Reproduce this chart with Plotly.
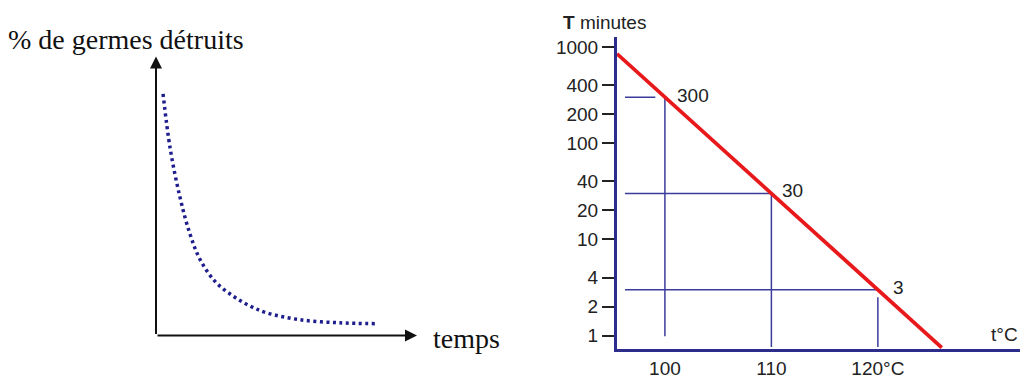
import math
import plotly.graph_objects as go

# page body adds an 8px margin: size the figure to fit the 1028x379 window
OFF = 8
W, H = 1028 - OFF, 379 - OFF

# ---------------- data ----------------
# left schematic: % of germs destroyed vs time (arbitrary units)
curve_time = [2.7, 5.4, 9.2, 13.0, 16.9, 22.6, 29.5, 36.0, 42.5, 55.2, 70.5, 83.9]
curve_pct = [87.5, 67.9, 50.0, 36.8, 27.5, 19.6, 14.3, 10.7, 8.2, 5.7, 4.6, 4.3]

# right chart: thermal death time (log scale)
red_temp = [95.5, 100, 110, 120, 126]
red_time = [850, 300, 30, 3, 0.75]
guide_temps = [100, 110, 120]
guide_times = [300, 30, 3]
guide_labels = ["300", "30", "3"]
y_tickvals = [1000, 400, 200, 100, 40, 20, 10, 4, 2, 1]
y_ticktext = ["1000", "400", "200", "100", "40", "20", "10", "4", "2", "1"]
x_tickvals = [100, 110, 120]
x_ticktext = ["100", "110", "120°C"]

NAVY = "#2b2c8c"
GUIDE = "#3b3c9c"
RED = "#e8191b"
TXT = "#222222"
SANS = "Liberation Sans, Arial, sans-serif"
SERIF = "Liberation Serif, Times New Roman, serif"
FS = 19


def px_x(p):
    return (p - OFF) / W


def px_y(p):
    return 1 - (p - OFF) / H


fig = go.Figure()

# ---- left panel ----
fig.add_trace(go.Scatter(
    x=curve_time, y=curve_pct, mode="lines", line_shape="spline",
    line=dict(color="#1e1e8e", width=3.5, dash="3px,3.5px"),
    xaxis="x", yaxis="y", showlegend=False, hoverinfo="skip"))

# ---- right panel ----
left_x = 96.25
guide_bottom = [0.98, 0.76, 0.76]
guide_top = [300, 30, 2.5]
for t, T in zip(guide_temps, guide_times):
    x_end = t - 0.9 if T == 300 else t
    fig.add_trace(go.Scatter(x=[left_x, x_end], y=[T, T], mode="lines",
                             line=dict(color=GUIDE, width=1.5),
                             xaxis="x2", yaxis="y2", showlegend=False, hoverinfo="skip"))
for t, top, bot in zip(guide_temps, guide_top, guide_bottom):
    fig.add_trace(go.Scatter(x=[t, t], y=[top, bot], mode="lines",
                             line=dict(color=GUIDE, width=1.5),
                             xaxis="x2", yaxis="y2", showlegend=False, hoverinfo="skip"))

fig.add_trace(go.Scatter(x=red_temp, y=red_time, mode="lines",
                         line=dict(color=RED, width=3.8),
                         xaxis="x2", yaxis="y2", showlegend=False, hoverinfo="skip"))

annotations = []
# left arrows
annotations.append(dict(x=100, y=0, ax=0, ay=0, xref="x", yref="y", axref="x", ayref="y",
                        showarrow=True, arrowhead=2, arrowsize=1.2, arrowwidth=2,
                        arrowcolor="#111", text=""))
annotations.append(dict(x=0, y=101, ax=0, ay=0, xref="x", yref="y", axref="x", ayref="y",
                        showarrow=True, arrowhead=2, arrowsize=1.2, arrowwidth=2,
                        arrowcolor="#111", text=""))
annotations.append(dict(x=px_x(126), y=px_y(40), xref="paper", yref="paper",
                        xanchor="center", yanchor="middle",
                        text="% de germes détruits", showarrow=False,
                        font=dict(family=SERIF, size=28, color="#111")))
annotations.append(dict(x=px_x(466), y=px_y(343), xref="paper", yref="paper",
                        xanchor="center", yanchor="middle",
                        text="temps", showarrow=False,
                        font=dict(family=SERIF, size=28, color="#111")))

# right labels
shifts = [(10, 2), (9, 3), (13, 2)]
for t, T, lab, (dx, dy) in zip(guide_temps, guide_times, guide_labels, shifts):
    annotations.append(dict(x=t, y=math.log10(T), xref="x2", yref="y2", text=lab,
                            showarrow=False, xanchor="left", yanchor="middle",
                            xshift=dx, yshift=dy,
                            font=dict(family=SANS, size=FS, color=TXT)))
annotations.append(dict(x=px_x(561), y=px_y(23), xref="paper", yref="paper",
                        text="<b>T</b> minutes", showarrow=False,
                        xanchor="left", yanchor="middle",
                        font=dict(family=SANS, size=FS, color=TXT)))
annotations.append(dict(x=px_x(1020), y=px_y(339), xref="paper", yref="paper",
                        text="t°C", showarrow=False,
                        xanchor="right", yanchor="middle",
                        font=dict(family=SANS, size=FS, color=TXT)))

fig.update_layout(
    width=W, height=H,
    margin=dict(l=0, r=0, t=0, b=0),
    paper_bgcolor="white", plot_bgcolor="rgba(0,0,0,0)",
    xaxis=dict(domain=[px_x(156), px_x(417)], range=[0, 100], visible=False),
    yaxis=dict(domain=[px_y(340), px_y(60)], range=[0, 100], visible=False),
    xaxis2=dict(domain=[px_x(617), 1.0], range=[95.5, 134.1], anchor="y2",
                showline=True, linecolor=NAVY, linewidth=3, showgrid=False,
                zeroline=False, tickvals=x_tickvals, ticktext=x_ticktext,
                ticks="", tickfont=dict(family=SANS, size=FS, color=TXT)),
    yaxis2=dict(domain=[px_y(354), px_y(37)], type="log", range=[-0.1436, 3.108],
                anchor="x2", showline=True, linecolor=NAVY, linewidth=3,
                showgrid=False, zeroline=False, tickvals=y_tickvals,
                ticktext=y_ticktext, ticks="outside", ticklen=12, tickwidth=2,
                tickcolor="#222", tickfont=dict(family=SANS, size=FS, color=TXT)),
    annotations=annotations,
)

fig.write_html("out.html")
